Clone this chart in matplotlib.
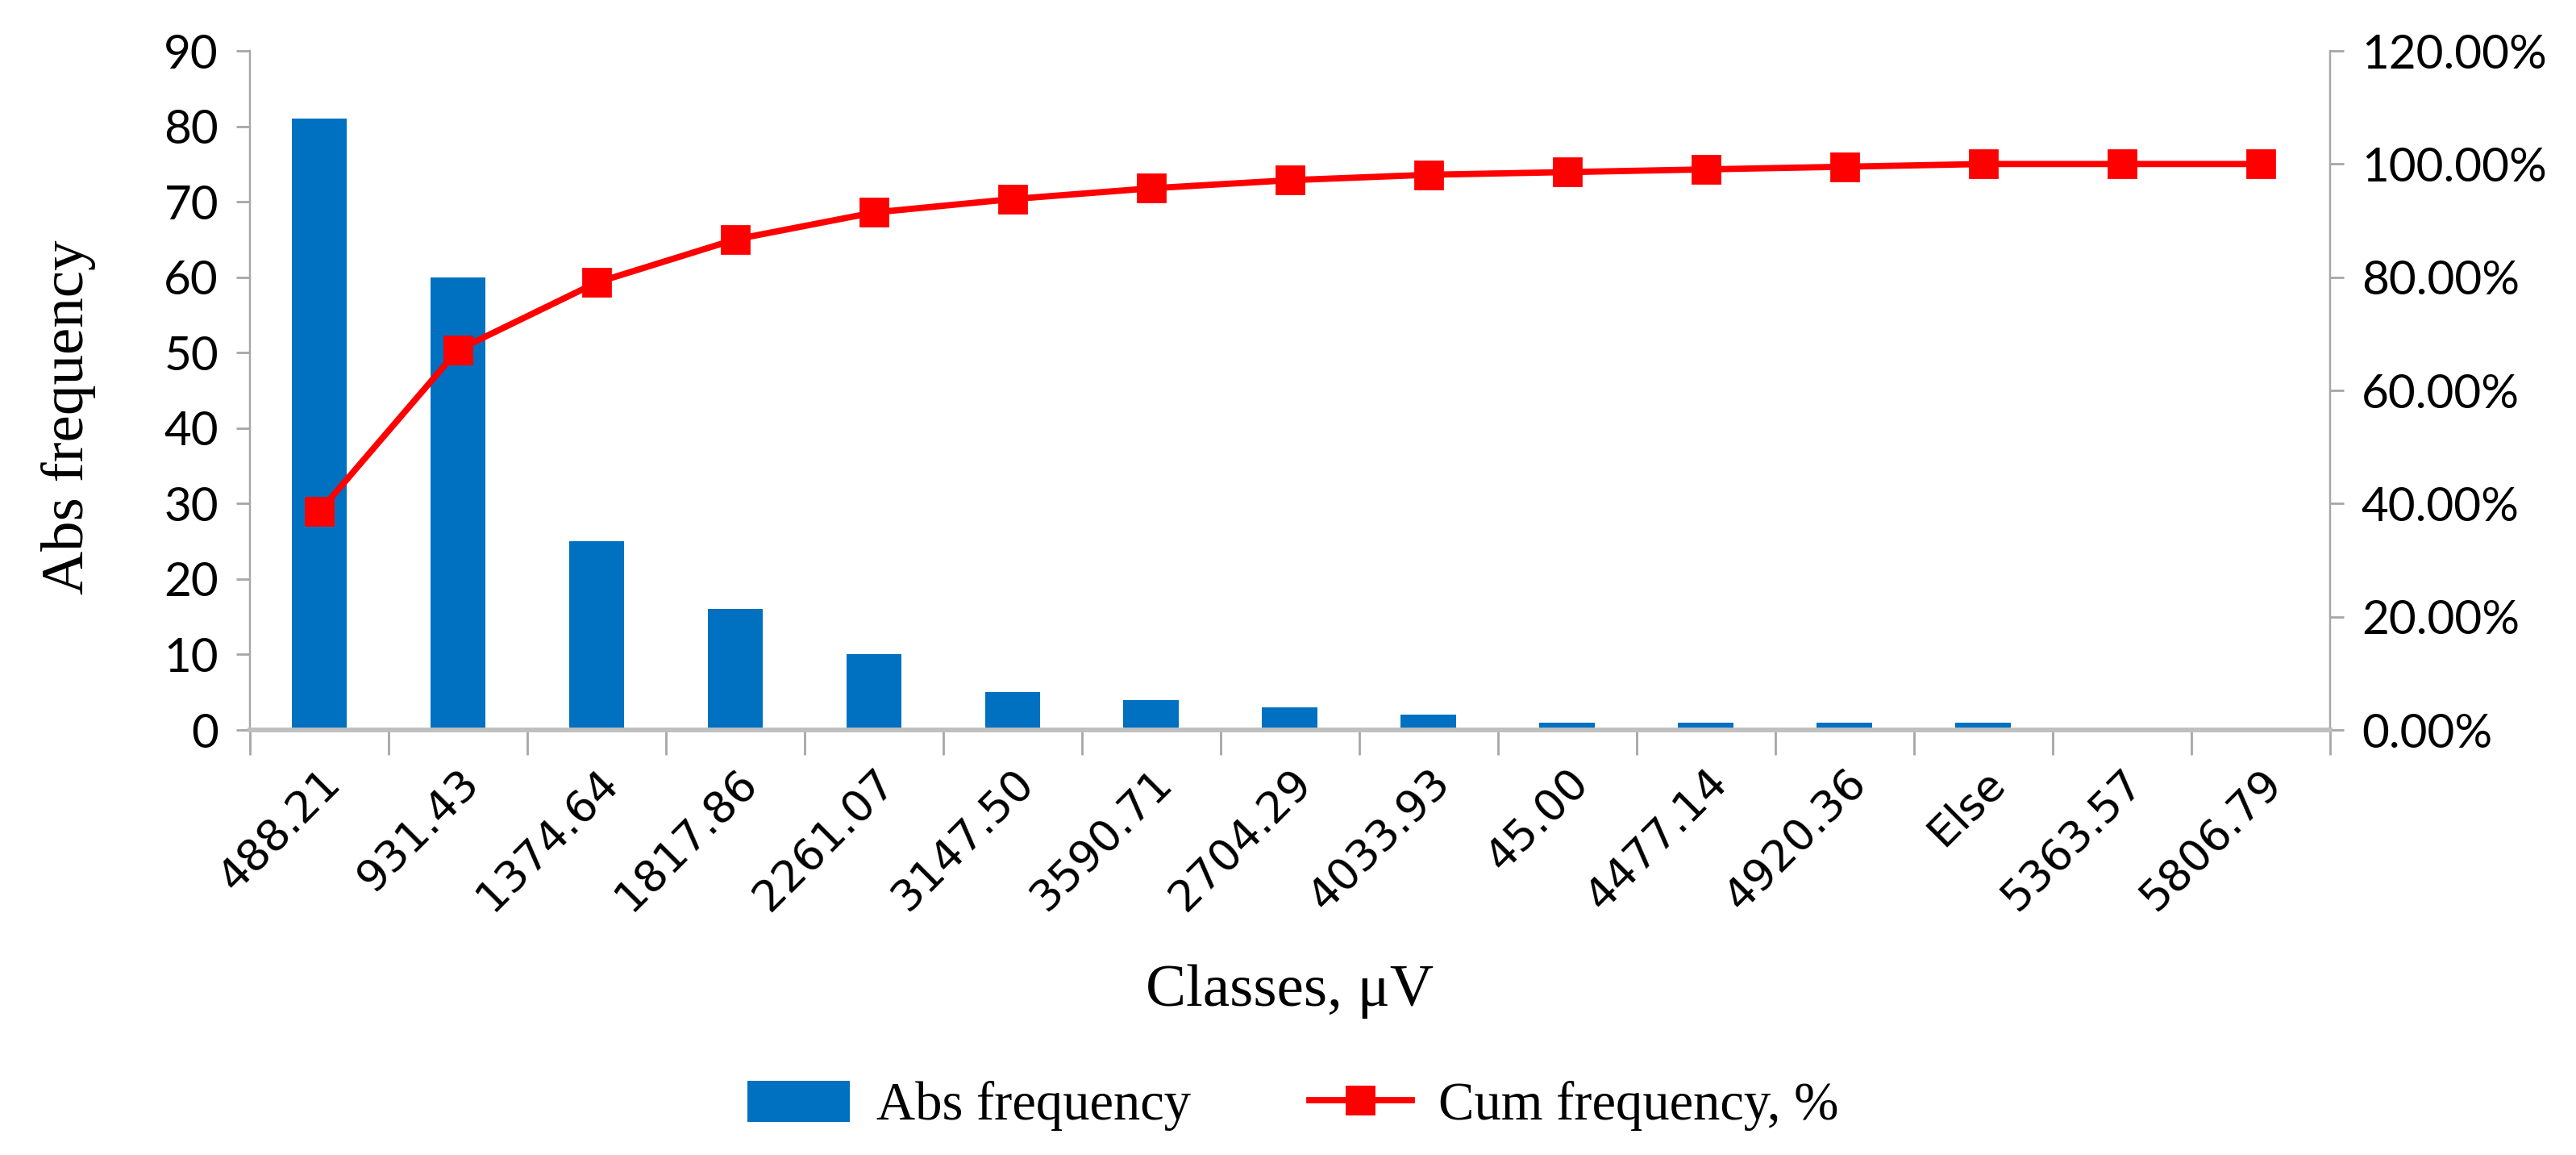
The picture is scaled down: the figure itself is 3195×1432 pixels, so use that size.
import matplotlib
matplotlib.use("Agg")
import matplotlib.pyplot as plt
from matplotlib.ticker import FuncFormatter, FixedLocator, NullFormatter
from matplotlib.lines import Line2D
from matplotlib.patches import Patch

classes = ["488.21", "931.43", "1374.64", "1817.86", "2261.07", "3147.50", "3590.71",
           "2704.29", "4033.93", "45.00", "4477.14", "4920.36", "Else", "5363.57", "5806.79"]
abs_freq = [81, 60, 25, 16, 10, 5, 4, 3, 2, 1, 1, 1, 1, 0, 0]
cum_freq = [38.57, 67.14, 79.05, 86.67, 91.43, 93.81, 95.71, 97.14, 98.10, 98.57,
            99.05, 99.52, 100.00, 100.00, 100.00]

BLUE = "#0070C0"
RED = "#FF0000"
GRAY = "#A6A6A6"

fig = plt.figure(figsize=(15.975, 7.16), dpi=200)
ax = fig.add_axes([0.097, 0.368, 0.8075, 0.588])
ax2 = ax.twinx()

x = list(range(len(classes)))
ax.bar(x, abs_freq, width=0.4, color=BLUE, zorder=2)
ax2.plot(x, cum_freq, color=RED, lw=2.8, marker="s", markersize=12.5, zorder=3)

n = len(classes)
ax.set_xlim(-0.5, n - 0.5)
ax.set_ylim(0, 90)
ax2.set_ylim(0, 120)
ax.set_yticks(range(0, 91, 10))
ax2.set_yticks(range(0, 121, 20))
ax2.yaxis.set_major_formatter(FuncFormatter(lambda v, p: f"{v:.2f}%"))

# x ticks: marks at boundaries, labels at centers
ax.xaxis.set_major_locator(FixedLocator([i - 0.5 for i in range(n + 1)]))
ax.xaxis.set_major_formatter(NullFormatter())
ax.xaxis.set_minor_locator(FixedLocator(x))
ax.set_xticklabels(classes, minor=True, rotation=45, ha="right",
                   rotation_mode="anchor", fontsize=19.5, family="DejaVu Sans")
ax.tick_params(axis="x", which="major", length=11, width=1.0, color=GRAY, direction="out")
ax.tick_params(axis="x", which="minor", length=0, pad=14)

ax.tick_params(axis="y", length=6, width=1.0, color=GRAY, labelsize=21, pad=8)
ax2.tick_params(axis="y", length=6, width=1.0, color=GRAY, labelsize=21, pad=8)
for lab in ax.get_yticklabels() + ax2.get_yticklabels():
    lab.set_family("Lato")

for a in (ax, ax2):
    a.spines["top"].set_visible(False)
    a.spines["left"].set_color(GRAY)
    a.spines["right"].set_color(GRAY)
    a.spines["bottom"].set_color("#BFBFBF")
    a.spines["bottom"].set_linewidth(2.0)
    a.set_facecolor("none")

ax.set_xlabel("Classes, μV", family="Liberation Serif", fontsize=27)
ax.xaxis.set_label_coords(0.5, -0.345)
ax.set_ylabel("Abs frequency", family="Liberation Serif", fontsize=27)
ax.yaxis.set_label_coords(-0.074, 0.46)

handles = [Patch(facecolor=BLUE, edgecolor="none"),
           Line2D([0], [0], color=RED, lw=2.8, marker="s", markersize=12.5)]
fig.legend(handles, ["Abs frequency", "Cum frequency, %"], loc="center",
           bbox_to_anchor=(0.502, 1 - 1371 / 1432), ncol=2, frameon=False,
           prop={"family": "Liberation Serif", "size": 24},
           handlelength=1.9, handleheight=0.8, columnspacing=2.2, handletextpad=0.5)

fig.savefig("out.png", dpi=200, facecolor="white")
